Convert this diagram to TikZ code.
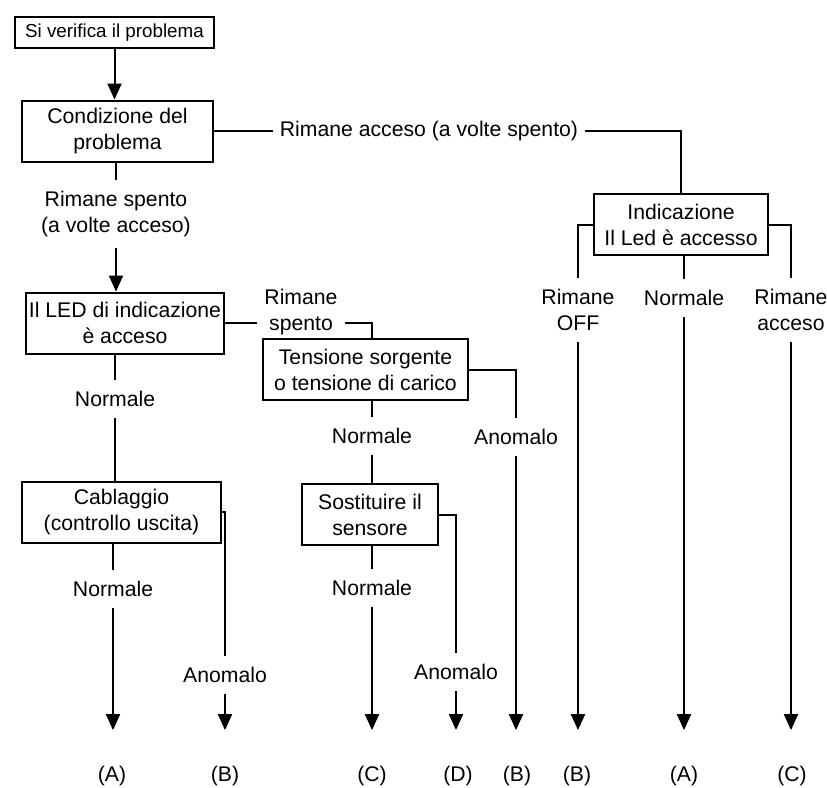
\documentclass[tikz,border=0pt]{standalone}
\usepackage{fontspec}
\setmainfont{Liberation Sans}
\usetikzlibrary{arrows.meta}

\begin{document}
\begin{tikzpicture}[>={Triangle[length=8pt,width=7pt]},x=0.5pt,y=-0.5pt,
                    line width=1pt,font=\fontsize{10.6}{13}\selectfont]
	\tikzstyle{box}=[draw,align=center,minimum height=30.5pt,inner xsep=1.5pt]
	\tikzstyle{lbl}=[align=center,inner xsep=3pt,inner ysep=5pt]
	\tikzstyle{res}=[inner sep=0pt,outer ysep=18pt]

	\useasboundingbox (0,0) rectangle (827,788);

	% boxes
	\node[box,font=\fontsize{9.4}{11}\selectfont,minimum width=99.5pt,minimum height=15.5pt]
	                                   (start) at (114.5,32.5) {Si verifica il problema};
	\node[box,minimum width=95.5pt]  (cond)  at (117.5,131)   {Condizione del\\problema};
	\node[box,minimum width=87pt]    (ind)   at (681,224.5)   {Indicazione\\Il Led è accesso};
	\node[box,minimum width=98pt]    (led)   at (125,323)     {Il LED di indicazione\\è acceso};
	\node[box,minimum width=102.5pt] (tens)  at (365.5,369.5) {Tensione sorgente\\o tensione di carico};
	\node[box,minimum width=99.5pt]  (cab)   at (121.5,512)   {Cablaggio\\(controllo uscita)};
	\node[box,minimum width=68pt]    (sost)  at (370,514.5)   {Sostituire il\\sensore};

	% branch labels
	\node[lbl] (acc1) at (429,131) {Rimane acceso (a volte spento)};
	\node[lbl] (sp1)  at (116,214) {Rimane spento\\(a volte acceso)};
	\node[lbl] (sp2)  at (301,312) {Rimane\\spento};
	\node[lbl] (n1)   at (115,399) {Normale};
	\node[lbl] (n2)   at (372,436) {Normale};
	\node[lbl] (a1)   at (516,437) {Anomalo};
	\node[lbl] (n3)   at (113,589) {Normale};
	\node[lbl] (a2)   at (225,675) {Anomalo};
	\node[lbl] (n4)   at (372,588) {Normale};
	\node[lbl] (a3)   at (456,672) {Anomalo};
	\node[lbl] (off)  at (578,310) {Rimane\\OFF};
	\node[lbl] (nI)   at (684,298) {Normale};
	\node[lbl] (on)   at (791,310) {Rimane\\acceso};

	% results
	\node[res] (rA1) at (112,776) {(A)};
	\node[res] (rB1) at (225,776) {(B)};
	\node[res] (rC1) at (372,776) {(C)};
	\node[res] (rD)  at (458,776) {(D)};
	\node[res] (rB2) at (517,776) {(B)};
	\node[res] (rB3) at (577,776) {(B)};
	\node[res] (rA2) at (684,776) {(A)};
	\node[res] (rC2) at (792,776) {(C)};

	% connectors
	\draw[->] (start) -- (start |- cond.north);
	\draw (cond) -- (acc1);
	\draw (acc1) -| (ind);
	\draw (cond.south -| sp1) -- (sp1);
	\draw[->] (sp1) -- (sp1 |- led.north);

	\draw (led.east) -- (sp2.west |- led.east);
	\draw (sp2.east |- led.east) -| (n2 |- tens.north);
	\draw (led.south -| n1) -- (n1);
	\draw (n1) -- (n1 |- cab.north);

	\draw (tens.south -| n2) -- (n2);
	\draw (n2) -- (n2 |- sost.north);
	\draw (tens) -| (a1);
	\draw[->] (a1) -- (a1 |- rB2.north);

	\draw (cab.south -| n3) -- (n3);
	\draw[->] (n3) -- (n3 |- rA1.north);
	\draw (cab) -| (a2);
	\draw[->] (a2) -- (a2 |- rB1.north);

	\draw (sost.south -| n4) -- (n4);
	\draw[->] (n4) -- (n4 |- rC1.north);
	\draw (sost) -| (a3);
	\draw[->] (a3) -- (a3 |- rD.north);

	\draw (ind) -| (off);
	\draw[->] (off) -- (off |- rB3.north);
	\draw (ind.south -| nI) -- (nI);
	\draw[->] (nI) -- (nI |- rA2.north);
	\draw (ind) -| (on);
	\draw[->] (on) -- (on |- rC2.north);
\end{tikzpicture}
\end{document}
